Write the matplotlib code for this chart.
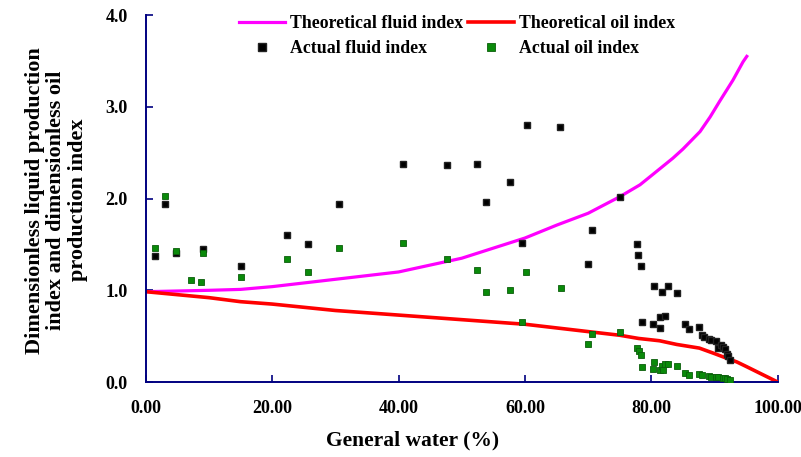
import matplotlib
matplotlib.use("Agg")
from matplotlib import pyplot as plt

# theoretical curves (water cut %, index)
theory_x = [0, 10, 15, 20, 30, 40, 50, 60, 65, 70, 75, 78, 80, 81.3, 84, 87.6, 90, 91.9, 93.5, 95, 97.2, 100]
theory_oil = [0.985, 0.92, 0.876, 0.85, 0.78, 0.73, 0.68, 0.63, 0.59, 0.55, 0.51, 0.475, 0.46, 0.45, 0.41, 0.37, 0.31, 0.26, 0.22, 0.17, 0.095, 0.0]
fluid_x = [0, 10, 15, 20, 30, 40, 50, 60, 65, 70, 75, 78.2, 80, 83.4, 85, 87.7, 89.3, 90.8, 92.9, 94.5, 95.1]
theory_fluid = [0.985, 1.0, 1.01, 1.04, 1.12, 1.20, 1.35, 1.57, 1.71, 1.84, 2.02, 2.15, 2.25, 2.44, 2.54, 2.73, 2.89, 3.06, 3.29, 3.49, 3.55]

# measured points
act_fluid_x = [1.5, 3.0, 4.8, 9.1, 15.0, 22.4, 25.7, 30.5, 40.7, 47.6, 52.4, 53.9, 57.6, 59.5,
               60.3, 65.6, 70.0, 70.6, 75.1, 77.7, 77.9, 78.3, 78.5, 80.3, 80.4, 81.3, 81.3,
               81.7, 82.2, 82.6, 84.1, 85.3, 86.0, 87.5, 88.0, 88.4, 89.1, 89.5, 90.2, 90.6,
               91.0, 91.3, 91.7, 92.0, 92.2, 92.4]
act_fluid_y = [1.37, 1.94, 1.41, 1.45, 1.26, 1.60, 1.50, 1.94, 2.38, 2.37, 2.38, 1.96, 2.18, 1.52,
               2.80, 2.78, 1.29, 1.66, 2.02, 1.50, 1.39, 1.26, 0.66, 0.63, 1.05, 0.59, 0.71,
               0.98, 0.72, 1.05, 0.97, 0.63, 0.58, 0.60, 0.51, 0.49, 0.47, 0.46, 0.45, 0.37,
               0.40, 0.385, 0.356, 0.31, 0.28, 0.24]
act_oil_x = [1.5, 3.0, 4.8, 7.1, 8.7, 9.1, 15.0, 22.4, 25.7, 30.5, 40.7, 47.6, 52.4, 53.9, 57.6,
             59.5, 60.2, 65.7, 70.0, 70.6, 75.0, 77.7, 78.0, 78.3, 78.5, 80.3, 80.4, 81.3, 81.7,
             81.9, 82.2, 82.6, 84.1, 85.3, 86.0, 87.5, 88.0, 89.1, 89.5, 90.2, 90.6, 91.3, 91.7,
             92.0, 92.4]
act_oil_y = [1.46, 2.03, 1.43, 1.11, 1.09, 1.41, 1.15, 1.34, 1.20, 1.46, 1.52, 1.34, 1.22, 0.98, 1.00,
             0.66, 1.20, 1.03, 0.42, 0.52, 0.55, 0.37, 0.34, 0.29, 0.16, 0.14, 0.22, 0.13, 0.17,
             0.13, 0.20, 0.20, 0.17, 0.10, 0.08, 0.087, 0.076, 0.065, 0.058, 0.058, 0.055, 0.047, 0.040,
             0.033, 0.022]

x_ticks = [0, 20, 40, 60, 80, 100]
x_labels = ["0.00", "20.00", "40.00", "60.00", "80.00", "100.00"]
y_ticks = [0, 1, 2, 3, 4]
y_labels = ["0.0", "1.0", "2.0", "3.0", "4.0"]

navy = "#000080"
serif = "Liberation Serif"

fig = plt.figure(figsize=(8.01, 4.57), dpi=100)
ax = fig.add_axes([0.182, 0.164, 0.789, 0.803])

l1, = ax.plot(fluid_x, theory_fluid, color="#ff00ff", lw=2.3, zorder=2)
l2, = ax.plot(theory_x, theory_oil, color="#ff0000", lw=2.6, zorder=2)
s1, = ax.plot(act_fluid_x, act_fluid_y, ls="none", marker="s", ms=5, color="black",
              mec="#222222", zorder=3)
s2, = ax.plot(act_oil_x, act_oil_y, ls="none", marker="s", ms=5, color="#0a8a0a",
              mec="#0b5e0b", mew=0.6, zorder=3)

ax.set_xlim(0, 100)
ax.set_ylim(0, 4)
ax.set_xticks(x_ticks)
ax.set_xticklabels(x_labels)
ax.set_yticks(y_ticks)
ax.set_yticklabels(y_labels)
for lab in ax.get_xticklabels() + ax.get_yticklabels():
    lab.set_fontfamily(serif)
    lab.set_fontweight("bold")
    lab.set_fontsize(13)
ax.tick_params(direction="in", length=5, width=1.2, color=navy)
ax.tick_params(axis="y", pad=13)
ax.tick_params(axis="x", pad=13)
for side in ["top", "right"]:
    ax.spines[side].set_visible(False)
for side in ["left", "bottom"]:
    ax.spines[side].set_color(navy)
    ax.spines[side].set_linewidth(1.4)

fig.text(0.515, 0.036, "General water (%)", ha="center", va="center",
         family=serif, weight="bold", fontsize=15.5)
fig.text(0.07, 0.562, "Dimensionless liquid production\nindex and dimensionless oil\nproduction index",
         ha="center", va="center", rotation=90, family=serif, weight="bold",
         fontsize=16, linespacing=1.1)

leg = ax.legend([l1, s1, l2, s2],
                ["Theoretical fluid index", "Actual fluid index",
                 "Theoretical oil index", "Actual oil index"],
                ncol=2, loc="upper left", bbox_to_anchor=(0.285, 0.99),
                bbox_transform=fig.transFigure, frameon=False,
                prop={"family": serif, "weight": "bold", "size": 12.8},
                handlelength=2.6, handletextpad=0.25, columnspacing=0.3,
                labelspacing=0.45, borderaxespad=0.2, markerscale=1.1)

fig.savefig("out.png", dpi=100)
